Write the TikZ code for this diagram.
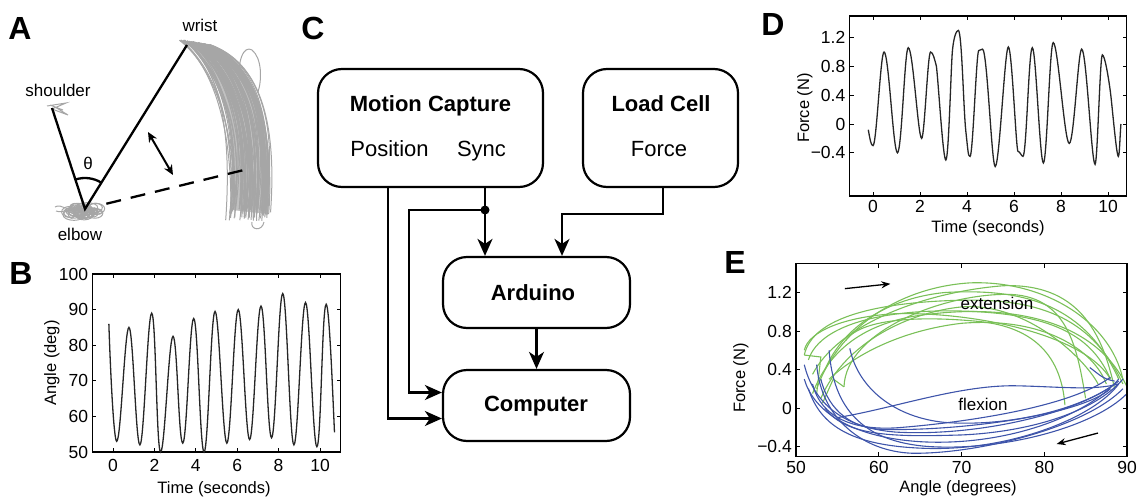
\documentclass[tikz,border=0pt]{standalone}
\usepackage{fontspec}
\setmainfont{Liberation Sans}
\usetikzlibrary{arrows.meta,calc}
\definecolor{tracegray}{RGB}{166,166,166}
\definecolor{extgreen}{RGB}{122,192,88}
\definecolor{flexblue}{RGB}{62,84,170}
\begin{document}
\begin{tikzpicture}[x=1pt,y=-1pt,
  panel/.style={font=\fontsize{32}{34}\selectfont\bfseries, inner sep=0pt},
  blk/.style={draw, line width=2.2pt, rounded corners=24pt, inner sep=0pt},
  boxtitle/.style={font=\fontsize{22}{24}\selectfont\bfseries, inner sep=0pt, anchor=base},
  boxsub/.style={font=\fontsize{22}{24}\selectfont, inner sep=0pt, anchor=base},
  conn/.style={line width=2.2pt},
  arr/.style={conn, -{Stealth[length=17pt,width=15pt,inset=5pt]}},
  ticklab/.style={font=\fontsize{17.5}{19}\selectfont, inner sep=0pt},
  axlab/.style={font=\fontsize{16.5}{18}\selectfont, inner sep=0pt, anchor=base},
  note/.style={font=\fontsize{17}{19}\selectfont, inner sep=0pt},
  axbox/.style={line width=1.1pt},
  axtick/.style={line width=0.8pt},
  sig/.style={line width=1.3pt, black!85},
  trace/.style={tracegray, line width=1pt},
  limb/.style={line width=2.3pt},
  ext/.style={extgreen, line width=1.1pt},
  flx/.style={flexblue, line width=1.1pt},
  dirarrow/.style={line width=1.3pt, -{Stealth[length=9pt,width=7pt]}}
]
\useasboundingbox (0,0) rectangle (1141,498);

% ---------------- Panel letters ----------------
\node[panel] (la) at (20,28) {A};
\node[panel] (lb) at (21,273) {B};
\node[panel] (lc) at (313,28) {C};
\node[panel] (ld) at (773,24) {D};
\node[panel] (le) at (735,262) {E};

% ---------------- Panel A ----------------
\coordinate (elbow) at (85,209);
\coordinate (shoulder) at (52,108);
\coordinate (wrist) at (187,45);
\coordinate (dashend) at (252,168);
\coordinate (da1) at (148,132);
\coordinate (da2) at (173,175);
% wrist trace band
\fill[tracegray!70] (184,41) .. controls (214,62) and (240,118) .. (232,210)
  -- (268,214) .. controls (276,118) and (254,62) .. (208,44) -- cycle;
\pgfmathsetseed{11}
\foreach \i in {1,...,80}{
  \pgfmathsetmacro{\s}{rnd}
  \pgfmathsetmacro{\ja}{4*rand}
  \pgfmathsetmacro{\jb}{6*rand}
  \pgfmathsetmacro{\jc}{6*rand}
  \pgfmathsetmacro{\jd}{5*rand}
  \pgfmathsetmacro{\je}{16*rnd}
  \draw[trace] (181+28*\s+\ja,40+5*\s) .. controls (212+44*\s+\jb,62) and (238+40*\s+\jc,118) .. (230+40*\s+\jd,205+\je);
}
\draw[trace] (240,90) .. controls (236,60) and (244,45) .. (252,50) .. controls (262,58) and (262,80) .. (258,92);
\draw[trace] (252,222) .. controls (250,230) and (262,232) .. (264,222);
% elbow blob
\pgfmathsetseed{5}
\foreach \i in {1,...,40}{
  \pgfmathsetmacro{\cx}{83+15*rand}
  \pgfmathsetmacro{\cy}{211+4*rand}
  \pgfmathsetmacro{\rx}{3+8*rnd}
  \pgfmathsetmacro{\ry}{2+4*rnd}
  \draw[trace] (\cx,\cy) ellipse [x radius=\rx, y radius=\ry];
}
\draw[trace] (55,207) .. controls (62,203) and (66,212) .. (74,208);
\draw[trace] (56,211) .. controls (64,214) and (70,206) .. (78,213);
% shoulder scribble
\draw[trace] (47,106) -- (66,103) -- (52,109) -- (68,115) -- (55,107) -- (63,110) -- (50,105);
% limbs
\draw[limb] (shoulder) -- (elbow) -- (wrist);
\draw[limb, dashed, dash pattern=on 15pt off 10pt, shorten <=22pt] (elbow) -- (dashend);
\draw[limb] ([shift={(108:31pt)}]elbow) arc[start angle=108, end angle=58, radius=31pt];
\draw[line width=2pt, {Stealth[length=10pt,width=9pt]}-{Stealth[length=10pt,width=9pt]}] (da1) -- (da2);
\node[note] (nwrist) at (200,25) {wrist};
\node[note] (nshoulder) at (58,90) {shoulder};
\node[note] (nelbow) at (80,234) {elbow};
\node[note] (ntheta) at (88,163) {θ};

% ---------------- Panel B ----------------
\begin{scope}[shift={(113,630)}, x=20.7pt, y=3.56pt]
  \draw[axbox] (-1,50) rectangle (11,100);
  \foreach \t in {0,2,...,10}{
    \draw[axtick] (\t,50) -- +(0pt,4pt);
    \draw[axtick] (\t,100) -- +(0pt,-4pt);
    \node[ticklab] at ([yshift=-13pt]\t,50) {\t};
  }
  \foreach \v in {50,60,...,100}{
    \draw[axtick] (-1,\v) -- +(4pt,0pt);
    \draw[axtick] (11,\v) -- +(-4pt,0pt);
    \node[ticklab, left=4pt] at (-1,\v) {\v};
  }
  \draw[sig] (-0.2,86) .. controls +(0.08,-14) and +(-0.14,0) .. (0.18,53)
    .. controls +(0.2,0) and +(-0.2,0) .. (0.77,85)
    .. controls +(0.2,0) and +(-0.2,0) .. (1.3,52)
    .. controls +(0.2,0) and +(-0.2,0) .. (1.87,89)
    .. controls +(0.2,0) and +(-0.2,0) .. (2.3,50)
    .. controls +(0.2,0) and +(-0.2,0) .. (2.9,82.5)
    .. controls +(0.2,0) and +(-0.2,0) .. (3.37,52.5)
    .. controls +(0.2,0) and +(-0.2,0) .. (3.9,87.5)
    .. controls +(0.2,0) and +(-0.2,0) .. (4.4,50)
    .. controls +(0.2,0) and +(-0.2,0) .. (4.93,89.5)
    .. controls +(0.2,0) and +(-0.2,0) .. (5.5,52.5)
    .. controls +(0.2,0) and +(-0.2,0) .. (6.05,90)
    .. controls +(0.2,0) and +(-0.2,0) .. (6.6,53.5)
    .. controls +(0.2,0) and +(-0.2,0) .. (7.15,91)
    .. controls +(0.2,0) and +(-0.2,0) .. (7.66,54)
    .. controls +(0.2,0) and +(-0.2,0) .. (8.2,94.5)
    .. controls +(0.2,0) and +(-0.2,0) .. (8.74,52)
    .. controls +(0.2,0) and +(-0.2,0) .. (9.3,92)
    .. controls +(0.2,0) and +(-0.2,0) .. (9.85,51.5)
    .. controls +(0.2,0) and +(-0.2,0) .. (10.3,91.5)
    .. controls +(0.15,0) and +(-0.08,10) .. (10.7,55.5);
\end{scope}
\node[axlab] (bxl) at (214,493) {Time (seconds)};
\node[axlab, rotate=90] (byl) at (56,363) {Angle (deg)};

% ---------------- Panel C ----------------
\node[blk, minimum width=225pt, minimum height=118pt] (mc) at (430.5,128) {};
\node[boxtitle] (mct) at (430.5,111) {Motion Capture};
\node[boxsub] (mcpos) at (389.5,156) {Position};
\node[boxsub] (mcsync) at (481.5,156) {Sync};
\node[blk, minimum width=155pt, minimum height=118pt] (lcb) at (660.5,128) {};
\node[boxtitle] (lct) at (661,111) {Load Cell};
\node[boxsub] (lcf) at (659,156) {Force};
\node[blk, minimum width=187pt, minimum height=71pt] (ard) at (536.5,292.5) {};
\node[boxtitle] (ardt) at (533,300) {Arduino};
\node[blk, minimum width=187pt, minimum height=71pt] (comp) at (536.5,405.5) {};
\node[boxtitle] (compt) at (536,411.7) {Computer};
\coordinate (posout) at ([xshift=-42.5pt]mc.south);
\coordinate (syncout) at ([xshift=54.5pt]mc.south);
\coordinate (junc) at (485,210);
\coordinate (bx) at (409,210);
\coordinate (lcout) at ([xshift=2.5pt]lcb.south);
\coordinate (lcbend) at (562,214);
\draw[arr] (posout) |- ([yshift=-13pt]comp.west);
\draw[arr] (syncout) -- (syncout |- ard.north);
\draw[arr] (junc) -- (bx) |- ([yshift=13pt]comp.west);
\fill (junc) circle (4.5pt);
\draw[arr] (lcout) |- (lcbend) -- (lcbend |- ard.north);
\draw[arr] (ard) -- (comp);

% ---------------- Panel D ----------------
\begin{scope}[shift={(873,124)}, x=23.5pt, y=72pt]
  \draw[axbox] (-1,-1) rectangle (10.8,1.5);
  \foreach \t in {0,2,...,10}{
    \draw[axtick] (\t,-1) -- +(0pt,4pt);
    \draw[axtick] (\t,1.5) -- +(0pt,-4pt);
    \node[ticklab] at ([yshift=-10pt]\t,-1) {\t};
  }
  \foreach \v/\l in {-0.4/−0.4,0/0,0.4/0.4,0.8/0.8,1.2/1.2}{
    \draw[axtick] (-1,\v) -- +(4pt,0pt);
    \draw[axtick] (10.8,\v) -- +(-4pt,0pt);
    \node[ticklab, left=4pt] at (-1,\v) {\l};
  }
  \draw[sig] (-0.2,-0.08) .. controls +(0.08,-0.15) and +(-0.08,0) .. (0.0,-0.3)
    .. controls +(0.15,0) and +(-0.15,0) .. (0.47,1.0)
    .. controls +(0.2,0) and +(-0.18,0) .. (1.04,-0.4)
    .. controls +(0.18,0) and +(-0.15,0) .. (1.5,1.06)
    .. controls +(0.2,0) and +(-0.15,0) .. (2.07,-0.2)
    .. controls +(0.12,0) and +(-0.12,0) .. (2.45,1.0)
    .. controls +(0.1,0) and +(-0.08,0.1) .. (2.7,0.8)
    .. controls +(0.1,-0.3) and +(-0.12,0) .. (3.1,-0.5)
    .. controls +(0.12,0) and +(-0.06,-0.2) .. (3.38,1.02)
    .. controls +(0.06,0.2) and +(-0.08,0) .. (3.63,1.3)
    .. controls +(0.15,0) and +(-0.1,0.3) .. (3.95,-0.1)
    .. controls +(0.1,-0.3) and +(-0.08,0) .. (4.13,-0.45)
    .. controls +(0.12,0) and +(-0.1,0) .. (4.5,1.02)
    .. controls +(0.06,0) and +(-0.06,0) .. (4.66,1.04)
    .. controls +(0.2,0) and +(-0.15,0) .. (5.2,-0.59)
    .. controls +(0.18,0) and +(-0.15,0) .. (5.76,1.07)
    .. controls +(0.15,0) and +(-0.08,0) .. (6.17,-0.38)
    .. controls +(0.08,0) and +(-0.06,0) .. (6.38,-0.45)
    .. controls +(0.15,0) and +(-0.15,0) .. (6.78,1.06)
    .. controls +(0.15,0) and +(-0.15,0) .. (7.25,-0.54)
    .. controls +(0.15,0) and +(-0.15,0) .. (7.67,1.13)
    .. controls +(0.2,0) and +(-0.2,0) .. (8.35,-0.27)
    .. controls +(0.2,0) and +(-0.15,0) .. (8.88,1.04)
    .. controls +(0.2,0) and +(-0.15,0) .. (9.45,-0.56)
    .. controls +(0.1,0) and +(-0.1,0) .. (9.76,0.96)
    .. controls +(0.1,0) and +(-0.08,0.2) .. (10.1,0.45)
    .. controls +(0.08,-0.2) and +(-0.08,0) .. (10.44,-0.45)
    .. controls +(0.05,0) and +(-0.04,-0.15) .. (10.55,0);
\end{scope}
\node[axlab] (dxl) at (988,232) {Time (seconds)};
\node[axlab, rotate=90] (dyl) at (809,108) {Force (N)};

% ---------------- Panel E ----------------
\begin{scope}[shift={(382.25,408)}, x=8.275pt, y=96.25pt]
  % extension (green)
  \draw[ext] (51,0.55) .. controls (52,0.95) and (60,1.10) .. (70,1.12) .. controls (80,1.14) and (86,0.9) .. (89.5,0.25);
  \draw[ext] (51.5,0.5) .. controls (53,0.9) and (62,1.05) .. (72,1.0) .. controls (82,0.95) and (86,0.7) .. (88,0.3);
  \draw[ext] (52.5,0.2) .. controls (55,0.8) and (62,1.25) .. (71,1.3) .. controls (80,1.33) and (88,0.9) .. (89.5,0.3);
  \draw[ext] (52,0.35) .. controls (55,0.85) and (65,1.2) .. (75,1.27) .. controls (84,1.3) and (87,0.8) .. (88.5,0.2);
  \draw[ext] (53,0.1) .. controls (56,0.7) and (64,1.0) .. (70,1.05) .. controls (78,1.1) and (85,0.5) .. (86.5,0.25);
  \draw[ext] (55.8,0.22) .. controls (56,0.8) and (68,1.2) .. (76,1.18) .. controls (83,1.15) and (84,0.6) .. (85,0.1);
  \draw[ext] (56,0.7) .. controls (58,0.95) and (66,0.95) .. (72,0.9) .. controls (78,0.85) and (82,0.6) .. (82.5,0.03);
  \draw[ext] (51,0.6) .. controls (51.5,0.8) and (56,0.95) .. (62,0.98) .. controls (72,1.0) and (85,0.75) .. (88,0.3);
  \draw[ext] (52,0.15) .. controls (54,0.6) and (58,0.85) .. (64,0.95) .. controls (75,1.1) and (86,0.95) .. (90,0.22);
  \draw[ext] (53.5,0.4) .. controls (56,0.9) and (62,1.15) .. (68,1.2) .. controls (78,1.25) and (85,1.05) .. (89,0.3);
  \draw[ext] (54,0.3) .. controls (58,0.62) and (64,0.82) .. (70,0.88) .. controls (80,0.95) and (86,0.6) .. (87.5,0.25);
  \draw[ext] (51,0.55) -- (53,0.53) -- (52.5,0.15);
  \draw[ext] (55.8,0.22) -- (54.5,0.3) -- (53.2,0.05);
  % flexion (blue)
  \draw[flx] (51,0.3) .. controls (52,0.0) and (56,-0.3) .. (65,-0.35) .. controls (75,-0.4) and (85,-0.1) .. (89,0.3);
  \draw[flx] (51,0.45) .. controls (52,0.1) and (55,-0.2) .. (62,-0.25) .. controls (72,-0.3) and (84,-0.05) .. (88.5,0.25);
  \draw[flx] (52.5,0.45) .. controls (53,-0.1) and (58,-0.45) .. (64,-0.47) .. controls (72,-0.48) and (85,-0.2) .. (89.5,0.2);
  \draw[flx] (54,0.6) .. controls (54.5,0.0) and (58,-0.35) .. (66,-0.4) .. controls (75,-0.45) and (86,-0.2) .. (90,0.15);
  \draw[flx] (56.5,0.62) .. controls (57.5,0.2) and (62,-0.1) .. (68,-0.15) .. controls (76,-0.2) and (85,0.0) .. (89,0.28);
  \draw[flx] (55,-0.1) .. controls (62,0.0) and (70,0.25) .. (77,0.23) .. controls (82,0.22) and (86,0.18) .. (89,0.25);
  \draw[flx] (52,0.25) .. controls (53,-0.1) and (57,-0.25) .. (63,-0.2) .. controls (70,-0.15) and (83,0.0) .. (88,0.32);
  \draw[flx] (51.5,0.2) .. controls (53,-0.2) and (57,-0.4) .. (66,-0.42) .. controls (76,-0.44) and (86,-0.1) .. (89,0.25);
  \draw[flx] (53.5,0.0) .. controls (56,-0.3) and (62,-0.3) .. (70,-0.28) .. controls (78,-0.25) and (86,-0.05) .. (89.5,0.3);
  \draw[flx] (85.5,0.42) .. controls (86.5,0.36) and (87,0.3) .. (88.5,0.28);
  \draw[flx] (53,0.3) .. controls (54,-0.05) and (57,-0.2) .. (60,-0.22) .. controls (68,-0.25) and (84,-0.1) .. (88,0.2);
  % axes
  \draw[axbox] (50,-0.5) rectangle (90,1.5);
  \foreach \t in {50,60,...,90}{
    \draw[axtick] (\t,-0.5) -- +(0pt,4pt);
    \draw[axtick] (\t,1.5) -- +(0pt,-4pt);
    \node[ticklab] at ([yshift=-11pt]\t,-0.5) {\t};
  }
  \foreach \v/\l in {-0.4/−0.4,0/0,0.4/0.4,0.8/0.8,1.2/1.2}{
    \draw[axtick] (50,\v) -- +(4pt,0pt);
    \draw[axtick] (90,\v) -- +(-4pt,0pt);
    \node[ticklab, left=4pt] at (50,\v) {\l};
  }
  \coordinate (ea1) at (55.9,1.24);
  \coordinate (ea2) at (61.4,1.29);
  \coordinate (eb1) at (86.5,-0.26);
  \coordinate (eb2) at (81.5,-0.374);
\end{scope}
\draw[dirarrow] (ea1) -- (ea2);
\draw[dirarrow] (eb1) -- (eb2);
\node[note] (next) at (997,303) {extension};
\node[note] (nflex) at (983,404) {flexion};
\node[axlab] (exl) at (958,492) {Angle (degrees)};
\node[axlab, rotate=90] (eyl) at (745,378) {Force (N)};
\end{tikzpicture}
\end{document}
